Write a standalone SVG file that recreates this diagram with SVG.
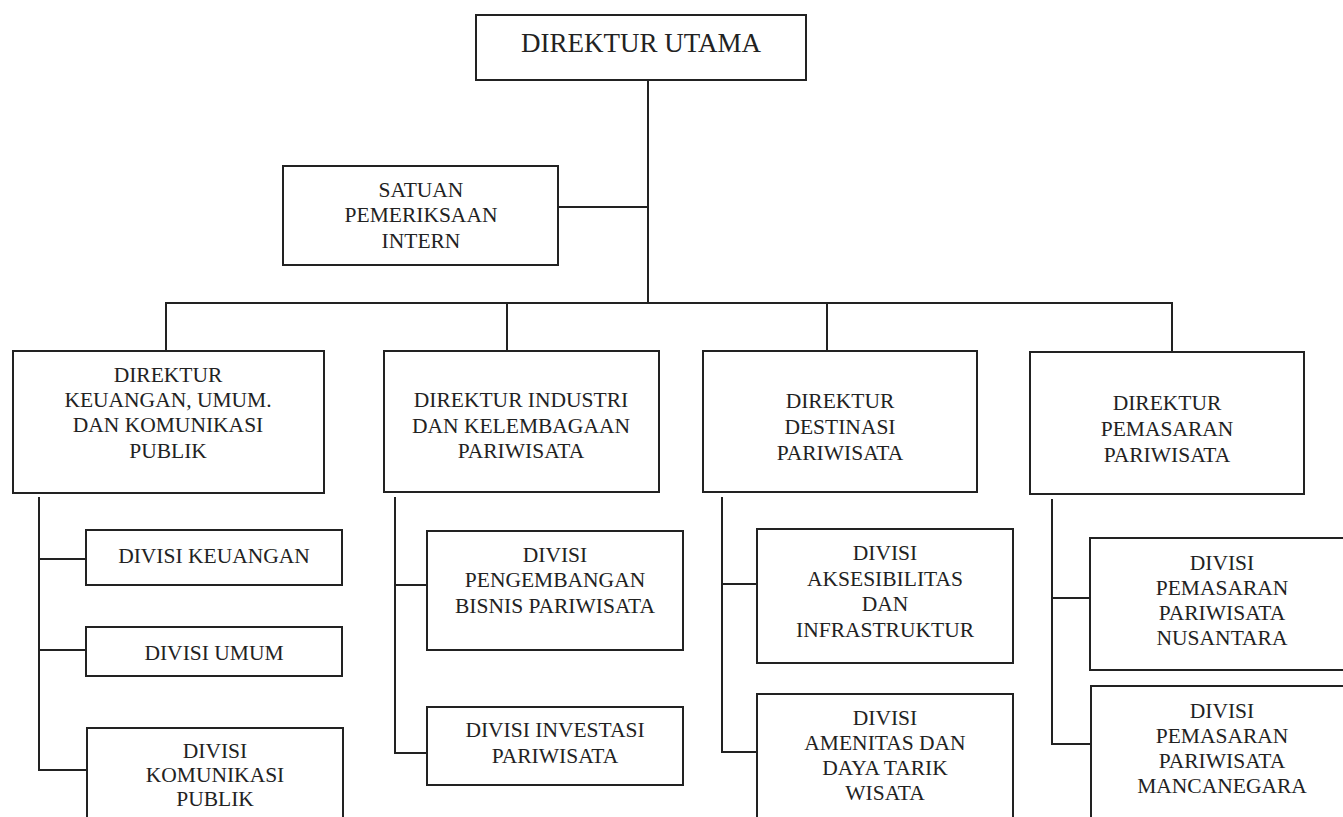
<svg xmlns="http://www.w3.org/2000/svg" width="1343" height="817" viewBox="0 0 1343 817">
<style>
rect.box{fill:#fff;stroke:#222;stroke-width:2}
.c line{stroke:#222;stroke-width:2;fill:none}
text{font-family:"Liberation Serif","Times New Roman",serif;font-size:21.5px;fill:#222;text-anchor:middle}
text.t{font-size:27px}
</style>
<rect width="1343" height="817" fill="#fff"/>
<g class="c" id="connectors">
<line x1="648" y1="80" x2="648" y2="303"/>
<line x1="558" y1="207" x2="648" y2="207"/>
<line x1="165" y1="303" x2="1173" y2="303"/>
<line x1="166" y1="303" x2="166" y2="351"/>
<line x1="507" y1="303" x2="507" y2="351"/>
<line x1="827" y1="303" x2="827" y2="351"/>
<line x1="1172" y1="303" x2="1172" y2="352"/>
<line x1="39" y1="497" x2="39" y2="771"/>
<line x1="38" y1="559" x2="86" y2="559"/>
<line x1="38" y1="650" x2="86" y2="650"/>
<line x1="38" y1="770" x2="87" y2="770"/>
<line x1="395" y1="497" x2="395" y2="754"/>
<line x1="394" y1="585" x2="427" y2="585"/>
<line x1="394" y1="753" x2="427" y2="753"/>
<line x1="722" y1="497" x2="722" y2="753"/>
<line x1="721" y1="584" x2="757" y2="584"/>
<line x1="721" y1="752" x2="757" y2="752"/>
<line x1="1052" y1="499" x2="1052" y2="745"/>
<line x1="1051" y1="598" x2="1090" y2="598"/>
<line x1="1051" y1="744" x2="1091" y2="744"/>
</g>
<g id="direktur-utama">
<rect class="box" x="476" y="15" width="330" height="65"/>
<text class="t" x="641" y="52">DIREKTUR UTAMA</text>
</g>
<g id="satuan-pemeriksaan">
<rect class="box" x="283" y="166" width="275" height="99"/>
<text x="421" y="197">SATUAN</text>
<text x="421" y="222">PEMERIKSAAN</text>
<text x="421" y="248">INTERN</text>
</g>
<g id="dir-keuangan">
<rect class="box" x="13" y="351" width="311" height="142"/>
<text x="168" y="382">DIREKTUR</text>
<text x="168" y="407">KEUANGAN, UMUM.</text>
<text x="168" y="432">DAN KOMUNIKASI</text>
<text x="168" y="458">PUBLIK</text>
</g>
<g id="dir-industri">
<rect class="box" x="384" y="351" width="275" height="141"/>
<text x="521" y="407">DIREKTUR INDUSTRI</text>
<text x="521" y="433">DAN KELEMBAGAAN</text>
<text x="521" y="458">PARIWISATA</text>
</g>
<g id="dir-destinasi">
<rect class="box" x="703" y="351" width="274" height="141"/>
<text x="840" y="408">DIREKTUR</text>
<text x="840" y="434">DESTINASI</text>
<text x="840" y="460">PARIWISATA</text>
</g>
<g id="dir-pemasaran">
<rect class="box" x="1030" y="352" width="274" height="142"/>
<text x="1167" y="410">DIREKTUR</text>
<text x="1167" y="436">PEMASARAN</text>
<text x="1167" y="462">PARIWISATA</text>
</g>
<g id="div-keuangan">
<rect class="box" x="86" y="530" width="256" height="55"/>
<text x="214" y="563">DIVISI KEUANGAN</text>
</g>
<g id="div-umum">
<rect class="box" x="86" y="627" width="256" height="49"/>
<text x="214" y="660">DIVISI UMUM</text>
</g>
<g id="div-komunikasi">
<rect class="box" x="87" y="728" width="256" height="100"/>
<text x="215" y="758">DIVISI</text>
<text x="215" y="782">KOMUNIKASI</text>
<text x="215" y="806">PUBLIK</text>
</g>
<g id="div-pengembangan">
<rect class="box" x="427" y="531" width="256" height="119"/>
<text x="555" y="562">DIVISI</text>
<text x="555" y="587">PENGEMBANGAN</text>
<text x="555" y="613">BISNIS PARIWISATA</text>
</g>
<g id="div-investasi">
<rect class="box" x="427" y="707" width="256" height="78"/>
<text x="555" y="737">DIVISI INVESTASI</text>
<text x="555" y="763">PARIWISATA</text>
</g>
<g id="div-aksesibilitas">
<rect class="box" x="757" y="529" width="256" height="134"/>
<text x="885" y="560">DIVISI</text>
<text x="885" y="586">AKSESIBILITAS</text>
<text x="885" y="611">DAN</text>
<text x="885" y="637">INFRASTRUKTUR</text>
</g>
<g id="div-amenitas">
<rect class="box" x="757" y="694" width="256" height="140"/>
<text x="885" y="725">DIVISI</text>
<text x="885" y="750">AMENITAS DAN</text>
<text x="885" y="775">DAYA TARIK</text>
<text x="885" y="800">WISATA</text>
</g>
<g id="div-nusantara">
<rect class="box" x="1090" y="538" width="262" height="132"/>
<text x="1222" y="570">DIVISI</text>
<text x="1222" y="595">PEMASARAN</text>
<text x="1222" y="620">PARIWISATA</text>
<text x="1222" y="645">NUSANTARA</text>
</g>
<g id="div-mancanegara">
<rect class="box" x="1091" y="686" width="262" height="150"/>
<text x="1222" y="718">DIVISI</text>
<text x="1222" y="743">PEMASARAN</text>
<text x="1222" y="768">PARIWISATA</text>
<text x="1222" y="793">MANCANEGARA</text>
</g>
</svg>
